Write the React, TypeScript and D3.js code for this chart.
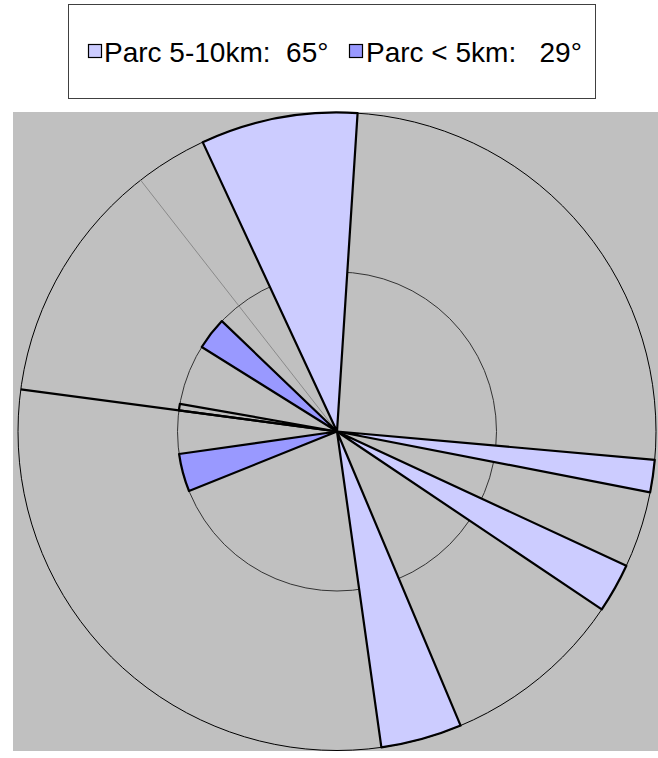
import React from "react";
import * as d3 from "d3";

// Sector boundaries in compass degrees (0 = north, clockwise)
const lightStart = [335.1, 95.1, 114.9, 157.2];
const lightEnd = [363.7, 101.0, 123.9, 172.0];
const darkStart = [302.0, 248.1];
const darkEnd = [313.8, 261.9];
const emptyStart = [277.6];
const emptyEnd = [280.0];
const outerLineAngles = [277.6];
const faintLineAngles = [322.0];
const radialTicks = [5, 10];
const outerValue = 10;
const innerValue = 5;
const legendLabels = ["Parc 5-10km:  65°", "Parc < 5km:   29°"];

const W = 658;
const H = 758;
const cx = 337;
const cy = 431.5;
const R = 319;

export default function App() {
  const r = d3.scaleLinear().domain([0, 10]).range([0, R]);
  const toRad = (deg: number) => (deg * Math.PI) / 180;
  const arc = d3.arc<any>();

  const sector = (s: number, e: number, v: number) =>
    arc({ innerRadius: 0, outerRadius: r(v), startAngle: toRad(s), endAngle: toRad(e) }) as string;

  const lightColor = "#CCCCFF";
  const darkColor = "#9999FF";

  return (
    <svg width={W} height={H} style={{ position: "absolute", left: 0, top: 0 }}
      fontFamily="'Liberation Sans', Arial, sans-serif">
      <rect x={0} y={0} width={W} height={H} fill="#fff" />
      {/* legend */}
      <rect x={68.5} y={4.5} width={527} height={94} fill="#fff" stroke="#404040" strokeWidth={1} />
      <rect x={88.5} y={44.5} width={13} height={13} fill={lightColor} stroke="#000" strokeWidth={1.2} />
      <text x={104} y={62} fontSize={28} fill="#000" style={{ whiteSpace: "pre" }}>{legendLabels[0]}</text>
      <rect x={349.5} y={44.5} width={13} height={13} fill={darkColor} stroke="#000" strokeWidth={1.2} />
      <text x={366} y={62} fontSize={28} fill="#000" style={{ whiteSpace: "pre" }}>{legendLabels[1]}</text>

      {/* plot area */}
      <rect x={13} y={112} width={W - 13} height={639} fill="#C0C0C0" />
      <g transform={`translate(${cx},${cy})`}>
        {radialTicks.map((t, i) => (
          <circle key={i} r={r(t)} fill="none" stroke={i === radialTicks.length - 1 ? "#000" : "#333"} strokeWidth={1} />
        ))}
        {faintLineAngles.map((a, i) => (
          <line key={"f" + i} x1={0} y1={0}
            x2={r(outerValue) * Math.sin(toRad(a))} y2={-r(outerValue) * Math.cos(toRad(a))}
            stroke="#8a8a8a" strokeWidth={1} />
        ))}
        {emptyStart.map((s, i) => (
          <path key={"e" + i} d={sector(s, emptyEnd[i], innerValue)} fill="#C0C0C0" stroke="#000" strokeWidth={2.2} strokeLinejoin="round" />
        ))}
        {outerLineAngles.map((a, i) => (
          <line key={"o" + i} x1={0} y1={0}
            x2={r(outerValue) * Math.sin(toRad(a))} y2={-r(outerValue) * Math.cos(toRad(a))}
            stroke="#000" strokeWidth={2.2} />
        ))}
        {darkStart.map((s, i) => (
          <path key={"d" + i} d={sector(s, darkEnd[i], innerValue)} fill={darkColor} stroke="#000" strokeWidth={2.2} strokeLinejoin="round" />
        ))}
        {lightStart.map((s, i) => (
          <path key={"l" + i} d={sector(s, lightEnd[i], outerValue)} fill={lightColor} stroke="#000" strokeWidth={2.2} strokeLinejoin="round" />
        ))}
      </g>
    </svg>
  );
}
